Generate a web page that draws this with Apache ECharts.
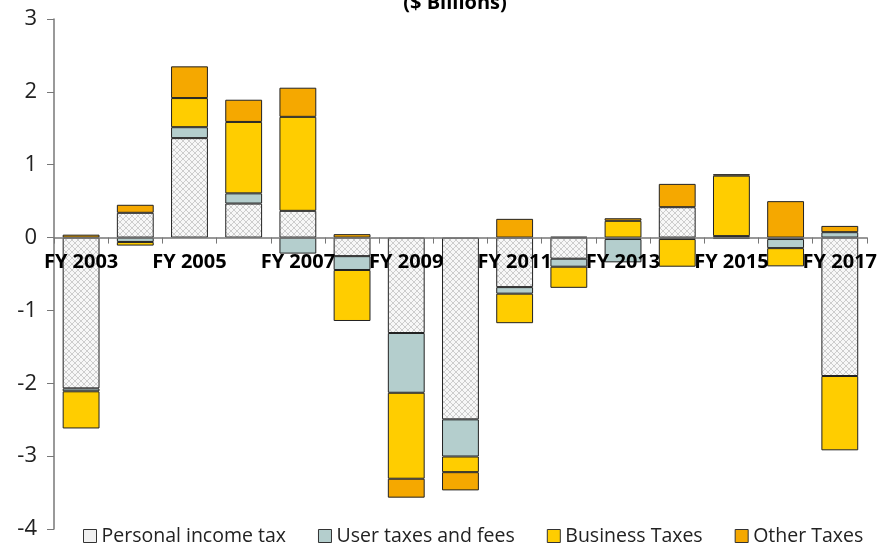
<!DOCTYPE html>
<html>
<head>
<meta charset="utf-8">
<script src="https://cdn.jsdelivr.net/npm/echarts@6/dist/echarts.min.js"></script>
<style>
  html, body { margin: 0; padding: 0; background: #fff; }
  #main { width: 880px; height: 546px; }
</style>
</head>
<body>
<div id="main"></div>
<script>
const years = ['FY 2003', 'FY 2004', 'FY 2005', 'FY 2006', 'FY 2007', 'FY 2008', 'FY 2009', 'FY 2010',
    'FY 2011', 'FY 2012', 'FY 2013', 'FY 2014', 'FY 2015', 'FY 2016', 'FY 2017'];

const personalIncome = [-2.07, 0.34, 1.365, 0.467, 0.367, -0.255, -1.31, -2.495, -0.68, -0.29, -0.02, 0.417, 0.02, -0.02, -1.90];
const userTaxes = [-0.04, -0.06, 0.15, 0.14, -0.22, -0.19, -0.82, -0.51, -0.09, -0.11, -0.32, -0.02, -0.02, -0.125, 0.074];
const businessTaxes = [-0.51, -0.05, 0.40, 0.98, 1.29, -0.70, -1.18, -0.215, -0.405, -0.29, 0.23, -0.38, 0.83, -0.25, -1.02];
const otherTaxes = [0.04, 0.11, 0.435, 0.305, 0.40, 0.047, -0.26, -0.25, 0.257, 0.01, 0.035, 0.32, 0.02, 0.50, 0.086];

const seriesNames = ['Personal income tax', 'User taxes and fees', 'Business Taxes', 'Other Taxes'];

const yMin = -4, yMax = 3;
const gridTop = 19, gridBottom = 17, chartH = 546;

// light grey cross-hatch, like the excel pattern fill
function hatch() {
    const c = document.createElement('canvas');
    c.width = 6;
    c.height = 6;
    const ctx = c.getContext('2d');
    ctx.fillStyle = '#f7f7f7';
    ctx.fillRect(0, 0, 6, 6);
    ctx.strokeStyle = '#cdcdcd';
    ctx.lineWidth = 1;
    ctx.beginPath();
    ctx.moveTo(0, 0); ctx.lineTo(6, 6);
    ctx.moveTo(6, 0); ctx.lineTo(0, 6);
    ctx.stroke();
    return c;
}

const fills = [{ image: hatch(), repeat: 'repeat' }, '#b4cecd', '#ffcd00', '#f5a800'];
const values = [personalIncome, userTaxes, businessTaxes, otherTaxes];

// move the category axis (line + labels) up to y = 0
const plotH = chartH - gridTop - gridBottom;
const zeroOffset = -plotH * (0 - yMin) / (yMax - yMin);

const font = '"Open Sans", "Noto Sans", sans-serif';

const myChart = echarts.init(document.getElementById('main'));
const option = {
    animation: false,
    title: {
        text: '($ Billions)',
        left: 450,
        textAlign: 'center',
        top: -12,
        textStyle: { fontFamily: font, fontWeight: 'bold', fontSize: 20, color: '#000' }
    },
    grid: { left: 54, right: 13, top: gridTop, bottom: gridBottom, containLabel: false },
    legend: {
        bottom: -5,
        left: 78,
        itemWidth: 13,
        itemHeight: 13,
        itemGap: 32,
        icon: 'rect',
        textStyle: { fontFamily: font, fontSize: 19.5, color: '#222' },
        data: seriesNames.map((n, i) => ({
            name: n,
            itemStyle: { color: i === 0 ? '#f0f0f0' : fills[i], borderColor: '#333', borderWidth: 1 }
        }))
    },
    xAxis: {
        type: 'category',
        data: years,
        position: 'bottom',
        offset: zeroOffset,
        z: 10,
        axisLine: { onZero: false, lineStyle: { color: '#777', width: 1.5 } },
        axisTick: { show: true, interval: 0, length: 6, lineStyle: { color: '#777' } },
        axisLabel: {
            interval: 1,
            margin: 15,
            fontFamily: font,
            fontWeight: 'bold',
            fontSize: 20,
            color: '#000'
        }
    },
    yAxis: {
        type: 'value',
        min: yMin,
        max: yMax,
        interval: 1,
        splitLine: { show: false },
        axisLine: { show: true, lineStyle: { color: '#777', width: 1.5 } },
        axisTick: { show: true, length: 7, lineStyle: { color: '#777' } },
        axisLabel: { fontFamily: font, fontSize: 22, color: '#222', margin: 17 }
    },
    series: values.map((v, i) => ({
        name: seriesNames[i],
        type: 'bar',
        stack: 'total',
        barWidth: '68%',
        z: 2,
        data: v,
        itemStyle: { color: fills[i], borderColor: '#222', borderWidth: 1 }
    }))
};
myChart.setOption(option);
</script>
</body>
</html>
